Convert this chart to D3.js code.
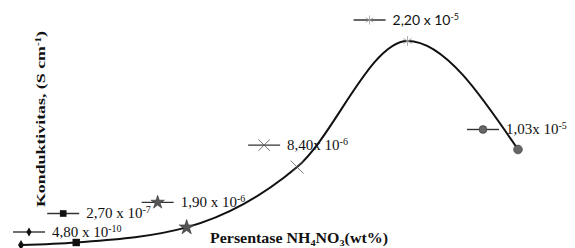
<!DOCTYPE html>
<html>
<head>
<meta charset="utf-8">
<script src="https://cdn.jsdelivr.net/npm/d3@7"></script>
<style>
body { margin: 0; background: #fff; }
svg { display: block; }
</style>
</head>
<body>
<svg></svg>
<script>
var width = 575, height = 248;

// data
var wtPercent = [0, 5, 15, 25, 35, 45];
var conductivity = [4.8e-10, 2.7e-7, 1.9e-6, 8.4e-6, 2.2e-5, 1.03e-5];
var mantissa = ["4,80 x 10", "2,70 x 10", "1,90 x 10", "8,40x 10", "2,20 x 10", "1,03x 10"];
var exponent = ["-10", "-7", "-6", "-6", "-5", "-5"];
var markerType = ["diamond", "square", "star", "times", "asterisk", "circle"];

// where each little legend line sits, relative to its point
var labelOffset = [[8, -13], [-13, -29], [-29, -25], [-33, -22], [-38, -21], [-35, -20]];

var svg = d3.select("svg")
    .attr("width", width)
    .attr("height", height);

var x = d3.scaleLinear().domain([0, 45]).range([21, 518]);
var y = d3.scaleLinear().domain([0, 2.2e-5]).range([245, 41]);

var pts = wtPercent.map(function (d, i) {
    return {x: d, v: conductivity[i], i: i};
});

var symbols = {
    diamond: d3.symbolDiamond,
    square: d3.symbolSquare,
    star: d3.symbolStar,
    times: d3.symbolTimes,
    asterisk: d3.symbolAsterisk,
    circle: d3.symbolCircle
};

function drawMarker(g, type, big) {
    var s = big ? 1 : 0.8;
    var p = g.append("path");
    if (type == "diamond") {
        p.attr("d", d3.symbol().type(symbols.diamond).size(30 * s)).attr("fill", "#111");
    } else if (type == "square") {
        p.attr("d", d3.symbol().type(symbols.square).size(55 * s)).attr("fill", "#111");
    } else if (type == "star") {
        p.attr("d", d3.symbol().type(symbols.star).size(70 * s)).attr("fill", "#555")
            .attr("stroke", "#333").attr("stroke-width", 0.6);
    } else if (type == "times") {
        p.attr("d", d3.symbol().type(symbols.times).size(110 * s)).attr("fill", "none")
            .attr("stroke", "#555").attr("stroke-width", 0.8);
    } else if (type == "asterisk") {
        p.attr("d", d3.symbol().type(symbols.asterisk).size(70 * s)).attr("fill", "none")
            .attr("stroke", "#999").attr("stroke-width", 0.8);
    } else {
        p.attr("d", d3.symbol().type(symbols.circle).size(60 * s)).attr("fill", "#666")
            .attr("stroke", "#333").attr("stroke-width", 0.6);
    }
}

// the curve
var line = d3.line()
    .x(function (d) { return x(d.x); })
    .y(function (d) { return y(d.v); })
    .curve(d3.curveMonotoneX);

svg.append("path")
    .datum(pts)
    .attr("d", line)
    .attr("fill", "none")
    .attr("stroke", "#111")
    .attr("stroke-width", 2);

// markers on the curve
pts.forEach(function (d) {
    var g = svg.append("g").attr("transform", "translate(" + x(d.x) + "," + y(d.v) + ")");
    drawMarker(g, markerType[d.i], true);
});

// labels: short line + marker + value
pts.forEach(function (d) {
    var o = labelOffset[d.i];
    var g = svg.append("g")
        .attr("transform", "translate(" + (x(d.x) + o[0]) + "," + (y(d.v) + o[1]) + ")");
    g.append("line")
        .attr("x1", -16).attr("x2", 16)
        .attr("stroke", "#333").attr("stroke-width", 1.4);
    drawMarker(g, markerType[d.i], false);
    var sans = d.i == 4;
    var t = g.append("text")
        .attr("x", 23).attr("y", 5)
        .attr("font-family", sans ? "Lato, sans-serif" : "'Liberation Serif', serif")
        .attr("font-size", sans ? 14 : 15)
        .attr("fill", "#111");
    t.append("tspan").text(mantissa[d.i]);
    t.append("tspan").attr("dy", -5).attr("font-size", sans ? 9 : 10).text(exponent[d.i]);
});

// axis titles
var xt = svg.append("text")
    .attr("x", 210).attr("y", 243)
    .attr("textLength", 178)
    .attr("lengthAdjust", "spacingAndGlyphs")
    .attr("font-family", "'Liberation Serif', serif")
    .attr("font-weight", "bold")
    .attr("font-size", 14)
    .attr("fill", "#111");
xt.append("tspan").text("Persentase NH");
xt.append("tspan").attr("dy", 3).attr("font-size", 9).text("4");
xt.append("tspan").attr("dy", -3).text("NO");
xt.append("tspan").attr("dy", 3).attr("font-size", 9).text("3");
xt.append("tspan").attr("dy", -3).text("(wt%)");

var yt = svg.append("text")
    .attr("transform", "translate(45,119) rotate(-90)")
    .attr("text-anchor", "middle")
    .attr("textLength", 176)
    .attr("lengthAdjust", "spacingAndGlyphs")
    .attr("font-family", "'Liberation Serif', serif")
    .attr("font-weight", "bold")
    .attr("font-size", 13)
    .attr("fill", "#111");
yt.append("tspan").text("Konduktivitas, (S cm");
yt.append("tspan").attr("dy", -4).attr("font-size", 8).text("-1");
yt.append("tspan").attr("dy", 4).text(")");
</script>
</body>
</html>
